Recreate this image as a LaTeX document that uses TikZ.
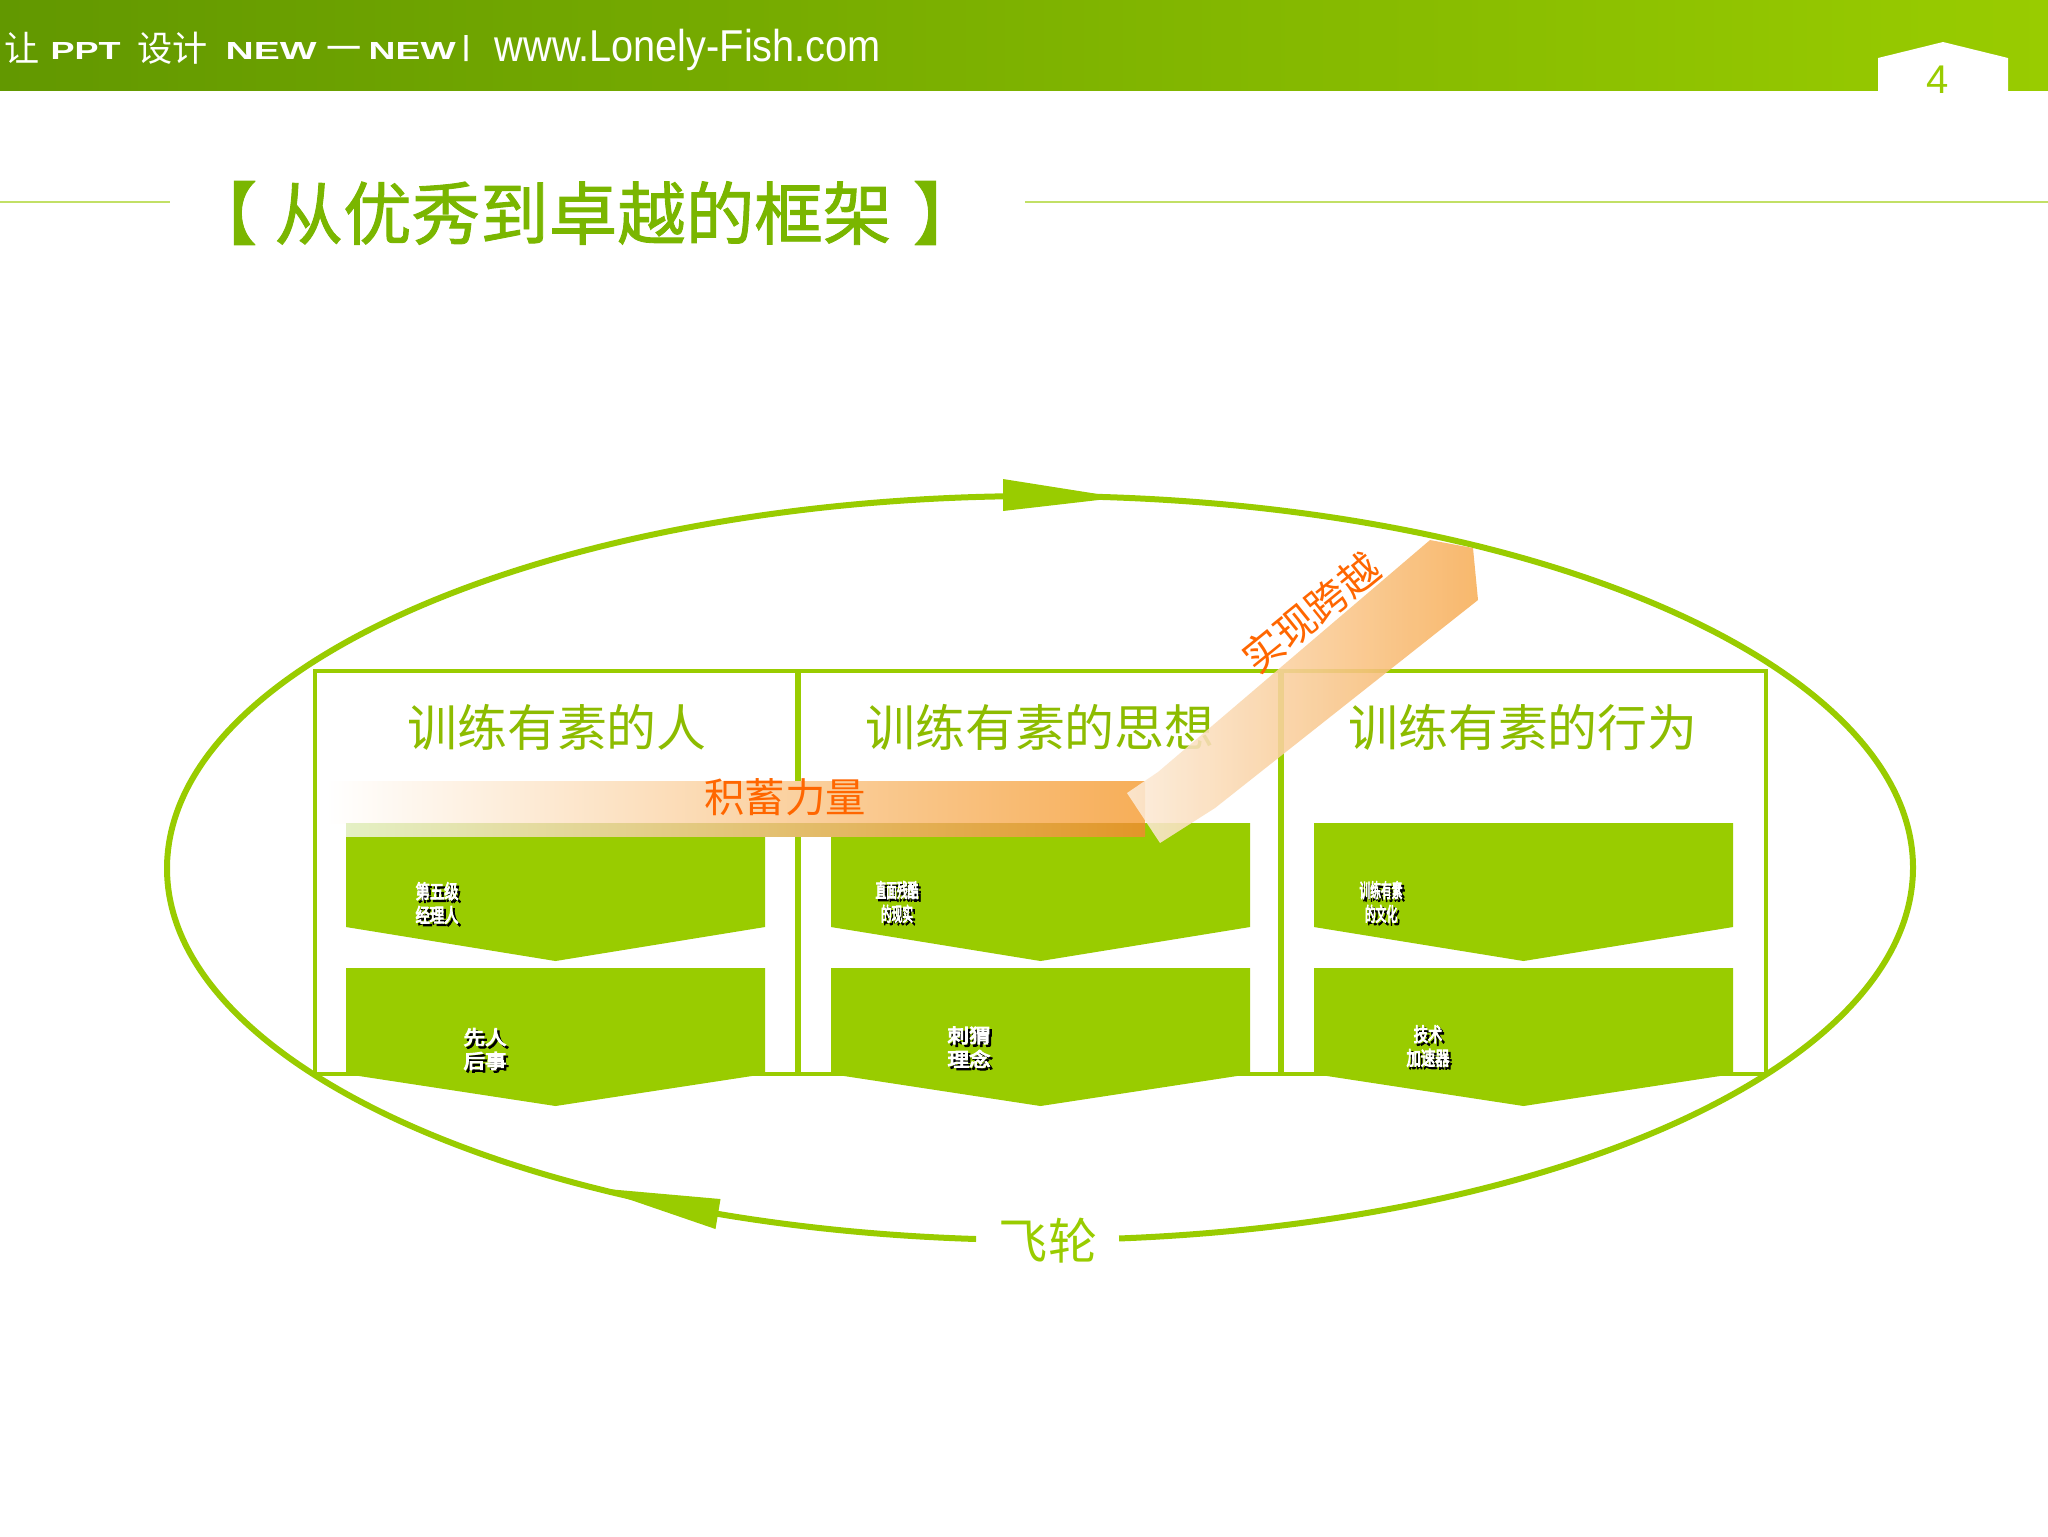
\documentclass[tikz,border=0pt]{standalone}
\usepackage{fontspec}
\usepackage{graphicx}
\setmainfont{Liberation Sans}
\newfontfamily\cjk{Noto Sans CJK SC}
\newfontfamily\cjktitle[FakeBold=1.3]{Noto Sans CJK SC}
\newfontfamily\cjkheavy[FakeBold=5]{Noto Sans CJK SC}
\usetikzlibrary{positioning}

\definecolor{leaf}{RGB}{153,204,0}
\definecolor{moss}{RGB}{122,182,0}
\definecolor{bandleft}{RGB}{98,152,0}
\definecolor{fire}{RGB}{255,102,0}
\definecolor{peach}{RGB}{252,236,218}
\definecolor{amber}{RGB}{247,174,88}
\definecolor{rust}{RGB}{226,150,40}
\definecolor{pale}{RGB}{228,240,196}

\newcommand{\fsz}[1]{\fontsize{#1pt}{#1pt}\selectfont}
\newcommand{\blobtext}[4]{%
  \node[blobshade] (#1s) at (#2+2.5,#3+2.5) {\resizebox{4.3mm}{4mm}{\cjkheavy\shortstack{#4}}};
  \node[blob] (#1) at (#2,#3) {\resizebox{4.3mm}{4mm}{\cjkheavy\shortstack{#4}}};}

\tikzset{
  headtext/.style={anchor=base west, text=white, inner sep=0pt},
  title/.style={text=moss, inner sep=0pt, font={\cjktitle\fsz{19.5}}},
  rule/.style={draw=leaf!60, line width=0.15mm},
  ring/.style={draw=leaf, line width=0.6mm},
  colline/.style={draw=leaf, line width=0.4mm, fill=white},
  chevron/.style={fill=leaf},
  colhead/.style={text=leaf!92!black, font={\cjk\fsz{14.2}}},
  flame/.style={text=fire, inner sep=0pt, font={\cjk\fsz{11.5}}},
  blob/.style={text=white, inner sep=0pt},
  blobshade/.style={text=black, inner sep=0pt}
}

\begin{document}
\begin{tikzpicture}[x=0.1mm,y=-0.1mm]
\useasboundingbox (0,0) rectangle (2048,1536);

\shade[left color=bandleft, right color=leaf] (0,0) rectangle (2048,90);
\fill[white] (1878,91) -- (1878,58) -- (1943,42) -- (2008,58) -- (2008,91) -- cycle;
\node[text=leaf, inner sep=0pt] (page) at (1938,80) {\fsz{11.4}4};

\node[headtext] (rang) at (4,61) {\cjk\fsz{10}让};
\node[headtext] (ppt) at (50,59) {\resizebox{7mm}{1.7mm}{\bfseries PPT}};
\node[headtext] (sheji) at (137,61) {\cjk\fsz{10}设计};
\node[headtext] (newa) at (225,59) {\resizebox{9.1mm}{1.7mm}{\bfseries NEW}};
\node[headtext] (yi) at (326,61) {\cjk\fsz{10}一};
\node[headtext] (newb) at (368,59) {\resizebox{8.7mm}{1.7mm}{\bfseries NEW}};
\node[headtext, anchor=south west] (bar) at (462,62) {\resizebox{0.7mm}{2mm}{\bfseries |}};
\node[headtext] (site) at (494,61) {\scalebox{0.89}[1]{\fsz{12.7}www.Lonely-Fish.com}};

\draw[rule] (0,202) -- (170,202);
\draw[rule] (1025,202) -- (2048,202);
\node[title] (ttl) at (583,213) {从优秀到卓越的框架};
\node[title, anchor=east] (lbr) at (258,213) {【};
\node[title, anchor=west] (rbr) at (912,213) {】};

\draw[ring] ({1040+873*cos(94.2)},{868+372*sin(94.2)})
  arc[start angle=94.2, end angle=444.8, x radius=873, y radius=372];
\fill[leaf] (1003,479) -- (1120,497.5) -- (1003,511) -- cycle;
\fill[leaf] (596,1188) -- (720.5,1199) -- (715.5,1229) -- cycle;
\node[text=leaf, font={\cjk\fsz{14}}] (flywheel) at (1048,1241) {飞轮};

\draw[colline] (315,671) rectangle (797,1074);
\draw[colline] (799,671) rectangle (1280,1074);
\draw[colline] (1282,671) rectangle (1766,1074);

\foreach \cx in {346,831,1314} {
  \fill[chevron] (\cx,823) -- ++(419,0) -- ++(0,104) -- ++(-209.5,34) -- ++(-209.5,-34) -- cycle;
  \fill[chevron] (\cx,968) -- ++(419,0) -- ++(0,106) -- ++(-209.5,32) -- ++(-209.5,-32) -- cycle;
}

\node[colhead] (people) at (557,727) {训练有素的人};
\node[colhead] (thought) at (1040,727) {训练有素的思想};
\node[colhead] (action) at (1523,727) {训练有素的行为};

\shade[left color=white, right color=amber] (326,781) rectangle (1145,823);
\shade[left color=pale, right color=rust] (346,823) rectangle (1145,836);
\node[flame] (gather) at (785,797) {积蓄力量};

\blobtext{levelfive}{437}{903}{第五级\\经理人}
\blobtext{whofirst}{485}{1049}{先人\\后事}
\blobtext{facts}{897}{902}{直面残酷\\的现实}
\blobtext{hedgehog}{969}{1047}{刺猬\\理念}
\blobtext{culture}{1381}{902}{训练有素\\的文化}
\blobtext{tech}{1428}{1046}{技术\\加速器}

\shade[left color=peach, right color=amber, fill opacity=0.88]
  (1127,793) -- (1158,772) -- (1430,540) -- (1473,548) -- (1478,600) -- (1215,808) -- (1160,843) -- cycle;
\node[flame, rotate=39] (leap) at (1311,613) {实现跨越};

\end{tikzpicture}
\end{document}
